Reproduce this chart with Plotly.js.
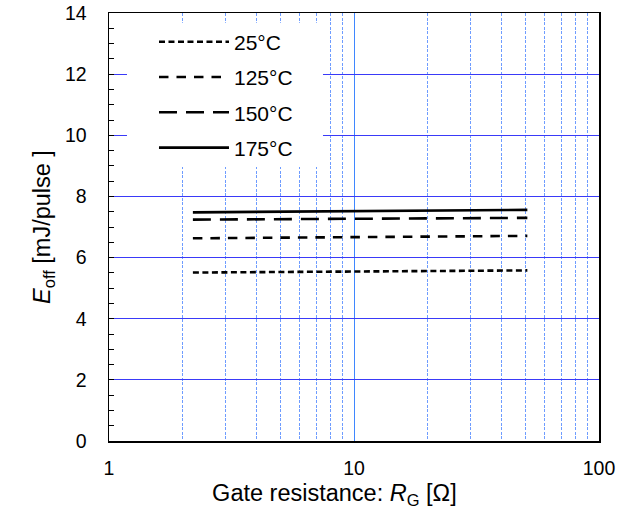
<!DOCTYPE html>
<html><head><meta charset="utf-8">
<script src="https://cdn.plot.ly/plotly-3.0.1.min.js"></script>
<style>body{margin:0;background:#fff}#chart{width:628px;height:510px}</style>
</head><body><div id="chart"></div>
<script>
const rg = [2.2, 5, 10, 20, 51];
const e25  = [5.51, 5.53, 5.54, 5.56, 5.58];
const e125 = [6.63, 6.65, 6.67, 6.69, 6.71];
const e150 = [7.24, 7.25, 7.27, 7.28, 7.30];
const e175 = [7.48, 7.50, 7.52, 7.53, 7.56];
const names = ['25°C', '125°C', '150°C', '175°C'];
const dashes = ['6px,3.5px', '9.5px,8px', '18px,9px', 'solid'];
const minorX = [2,3,4,5,6,7,8,9,20,30,40,50,60,70,80,90];
const majorX = [1, 10, 100];
const xTickText = ['1', '10', '100'];

const series = [e25, e125, e150, e175];
const traces = series.map((s, i) => ({
  x: rg, y: s, type: 'scatter', mode: 'lines', name: names[i],
  legendgroup: 'g' + i,
  line: {color: '#000', width: 2.6, dash: dashes[i]}
}));

const fam = 'Liberation Sans, Arial, sans-serif';
const tickFont = {family: fam, size: 19.5, color: '#000'};
const titleFont = {family: fam, size: 23.5, color: '#000'};
const layout = {
  width: 628, height: 510,
  margin: {l: 109, r: 29, t: 13, b: 69},
  paper_bgcolor: '#fff', plot_bgcolor: '#fff',
  font: tickFont,
  showlegend: true,
  legend: {x: 0.0918, y: 0.98, xanchor: 'left', yanchor: 'top', bgcolor: 'rgba(0,0,0,0)',
    borderwidth: 0, font: {family: fam, size: 21, color: '#000'},
    tracegroupgap: 5, itemwidth: 70},
  shapes: [{type: 'rect', xref: 'paper', yref: 'paper', x0: 0.0367, x1: 0.4367, y0: 0.640, y1: 0.977,
    fillcolor: '#fff', line: {width: 0}, layer: 'above'}],
  xaxis: {type: 'log', range: [0, 2], tickvals: majorX, ticktext: xTickText,
    showgrid: true, gridcolor: '#3f87ff', gridwidth: 1,
    showline: true, linecolor: '#000', linewidth: 1.5, mirror: true,
    ticks: '', zeroline: false, ticklabelstandoff: 9,
    minor: {tickvals: minorX, showgrid: true, gridcolor: '#6e9cff', griddash: '3px,1.5px', gridwidth: 1, ticks: ''},
    title: {text: 'Gate resistance: <i>R</i><sub>G</sub> [Ω]&nbsp;&nbsp;&nbsp;&nbsp;&nbsp;&nbsp;', font: titleFont, standoff: 6},
    tickfont: tickFont},
  yaxis: {range: [0, 14], dtick: 2, showgrid: true, gridcolor: '#3a3af8', gridwidth: 1,
    showline: true, linecolor: '#000', linewidth: 1.5, mirror: true,
    ticks: 'inside', ticklen: 5, tickcolor: '#000', zeroline: false,
    minor: {dtick: 0.5, ticks: 'inside', ticklen: 5, tickcolor: '#000', showgrid: false},
    ticklabelstandoff: 17,
    title: {text: '<i>E</i><sub>off</sub> [mJ/pulse ]', font: titleFont, standoff: 7},
    tickfont: tickFont}
};
Plotly.newPlot('chart', traces, layout, {displayModeBar: false, staticPlot: true});
</script></body></html>
